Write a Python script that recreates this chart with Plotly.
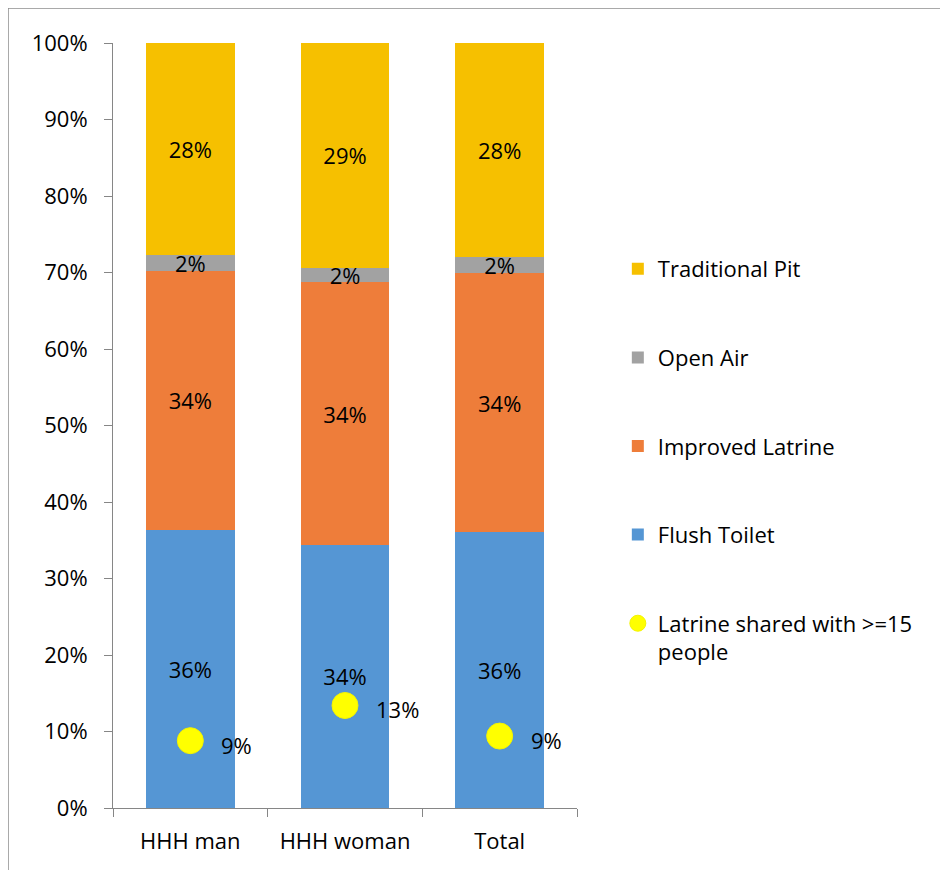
import plotly.graph_objects as go

categories = ["HHH man", "HHH woman", "Total"]

flush_toilet = [36.4, 34.4, 36.1]
improved_latrine = [33.8, 34.3, 33.8]
open_air = [2.1, 1.9, 2.1]
traditional_pit = [27.7, 29.4, 28.0]
latrine_shared = [8.8, 13.4, 9.4]

y_ticks = [0, 10, 20, 30, 40, 50, 60, 70, 80, 90, 100]
y_tick_labels = ["0%", "10%", "20%", "30%", "40%", "50%", "60%", "70%", "80%", "90%", "100%"]

FONT = "Open Sans, Noto Sans, sans-serif"
FS = 22

# plot area in pixels (figure sits 8px inside the page)
L, T, PW, PH = 105, 35, 464, 765
W, H = 940, 862

# (name, values, colour, legend rank)
bar_series = [
    ("Flush Toilet", flush_toilet, "#5596d4", 4),
    ("Improved Latrine", improved_latrine, "#ee7d3a", 3),
    ("Open Air", open_air, "#a2a2a2", 2),
    ("Traditional Pit", traditional_pit, "#f6c000", 1),
]

fig = go.Figure()
for name, vals, color, rank in bar_series:
    fig.add_trace(go.Bar(
        x=categories, y=vals, name=name,
        marker=dict(color=color, line=dict(width=0)),
        texttemplate="%{y:.0f}%", textposition="inside",
        insidetextanchor="middle", constraintext="none",
        textfont=dict(size=FS, color="black", family=FONT),
        legendrank=rank, legendgroup=name,
    ))

fig.add_trace(go.Scatter(
    x=categories, y=latrine_shared, mode="markers",
    name="Latrine shared with >=15<br>people",
    marker=dict(color="#ffff00", size=26, line=dict(color="#f4f400", width=1)),
    legendrank=5, legendgroup="shared",
))

# value labels beside the yellow dots
for cat, v in zip(categories, latrine_shared):
    fig.add_annotation(
        x=cat, y=v, text=f"{v:.0f}%", showarrow=False,
        xanchor="left", xshift=29, yshift=-4,
        font=dict(size=FS, color="black", family=FONT),
    )

# outer chart border, top and left edges
fig.add_shape(type="line", xref="paper", yref="paper",
              x0=-L / PW, x1=(W - L) / PW, y0=1 + T / PH, y1=1 + T / PH,
              line=dict(color="#8c8c8c", width=1.5))
fig.add_shape(type="line", xref="paper", yref="paper",
              x0=-L / PW, x1=-L / PW, y0=1 + T / PH, y1=-(H - T - PH) / PH,
              line=dict(color="#8c8c8c", width=1.5))

fig.update_layout(
    width=W, height=H,
    barmode="stack", bargap=0.425,
    plot_bgcolor="white", paper_bgcolor="white",
    margin=dict(l=L, r=W - L - PW, t=T, b=H - T - PH),
    font=dict(family=FONT, size=FS, color="black"),
    showlegend=True,
    legend=dict(
        x=1.088, xanchor="left", y=0.732, yanchor="top",
        traceorder="grouped", tracegroupgap=57, valign="top",
        font=dict(size=FS, family=FONT, color="black"),
        bgcolor="rgba(0,0,0,0)",
    ),
)

fig.update_xaxes(
    showline=True, linecolor="#868686", linewidth=1,
    ticks="outside", tickson="boundaries", ticklen=8, tickcolor="#868686",
    ticklabelstandoff=14, showgrid=False,
    tickfont=dict(size=FS, family=FONT, color="black"),
)
fig.update_yaxes(
    range=[0, 100], tickvals=y_ticks, ticktext=y_tick_labels,
    showline=True, linecolor="#868686", linewidth=1,
    ticks="outside", ticklen=8, tickcolor="#868686",
    ticklabelstandoff=12, showgrid=False, zeroline=False,
    tickfont=dict(size=FS, family=FONT, color="black"),
)

fig.write_html("out.html")
